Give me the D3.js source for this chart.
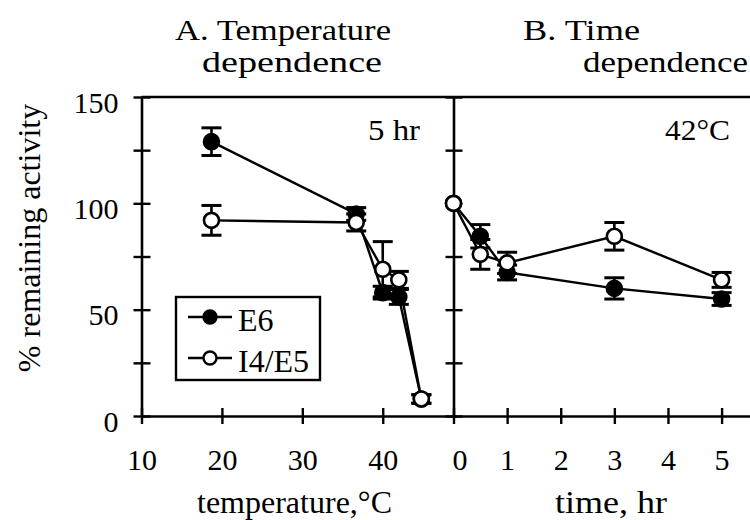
<!DOCTYPE html>
<html><head><meta charset="utf-8">
<script src="https://cdn.jsdelivr.net/npm/d3@7"></script>
<style>
body{margin:0;background:#fff}
text{font-family:"Liberation Serif","Times New Roman",serif;fill:#000}
</style></head><body>
<svg id="chart" width="750" height="520"></svg>
<script>
// Panel A: remaining activity after 5 hr at each temperature
const tempC = [18.7, 36.7, 40, 42, 44.8];
const tempE6 = [129, 95, 58, 56, 8];
const tempE6Err = [6.5, 3, 3, 3.5, 2];
const tempI4E5 = [92, 91, 69, 64, 8];
const tempI4E5Err = [7, 4, 13, 4, 2];

// Panel B: remaining activity at 42°C over time
const timeHr = [0, 0.5, 1, 3, 5];
const timeE6 = [100, 84.5, 67.5, 60, 55];
const timeE6Err = [0, 5.5, 3.5, 5, 3];
const timeI4E5 = [100, 76, 72, 84.5, 64];
const timeI4E5Err = [0, 7, 5, 6.5, 3.5];

const seriesNames = ["E6", "I4/E5"];
const yTicks = [0, 25, 50, 75, 100, 125, 150];
const yTickLabels = ["0", "", "50", "", "100", "", "150"];
const tempTicks = [10, 20, 30, 40];
const timeTicks = [0, 1, 2, 3, 4, 5];

const svg = d3.select("#chart");
const plotTop = 97, plotBottom = 416, plotLeft = 141.5, plotMid = 453.5, plotRight = 750;

const y = d3.scaleLinear().domain([0, 150]).range([plotBottom, plotTop]);
const xA = d3.scaleLinear().domain([10, 48.8]).range([plotLeft, plotMid]);
const xB = d3.scaleLinear().domain([0, 5.53]).range([plotMid, plotRight]);

const ink = "#000";
const frameW = 2.6;

// top frame line
svg.append("line").attr("x1", plotLeft).attr("x2", plotRight).attr("y1", plotTop).attr("y2", plotTop)
  .attr("stroke", ink).attr("stroke-width", frameW);

// y axes: left edge and the divider between panels, ticks crossing the line
function yAxis(x, withLabels) {
  const g = svg.append("g").attr("transform", `translate(${x},0)`)
    .call(d3.axisLeft(y).tickValues(yTicks).tickSize(8).tickSizeOuter(0)
      .tickFormat((d, i) => withLabels ? yTickLabels[i] : ""));
  g.select(".domain").attr("stroke", ink).attr("stroke-width", frameW);
  g.selectAll(".tick line").attr("x1", -8).attr("x2", 9).attr("stroke", ink).attr("stroke-width", 2.4);
  g.selectAll(".tick text").attr("x", -23).attr("dy", 15).attr("font-size", 30)
    .attr("font-family", "Liberation Serif").attr("fill", ink);
  return g;
}
yAxis(plotLeft, true);
yAxis(plotMid, false);

// x axes
function xAxis(scale, ticks, shiftFirst) {
  const g = svg.append("g").attr("transform", `translate(0,${plotBottom})`)
    .call(d3.axisBottom(scale).tickValues(ticks).tickSize(8).tickSizeOuter(0).tickFormat(d3.format("d")));
  g.select(".domain").attr("stroke", ink).attr("stroke-width", frameW);
  g.selectAll(".tick line").attr("y1", -8).attr("y2", 8).attr("stroke", ink).attr("stroke-width", 2.4);
  g.selectAll(".tick text").attr("y", 54).attr("dy", 0).attr("font-size", 30)
    .attr("font-family", "Liberation Serif").attr("fill", ink)
    .attr("dx", (d, i) => (shiftFirst && i === 0) ? 6 : 0);
  return g;
}
xAxis(xA, tempTicks, false);
xAxis(xB, timeTicks, true);

// build series rows
function rows(xs, vs, es) { return xs.map((x, i) => ({ x, v: vs[i], e: es[i] })); }
const panelA = [rows(tempC, tempE6, tempE6Err), rows(tempC, tempI4E5, tempI4E5Err)];
const panelB = [rows(timeHr, timeE6, timeE6Err), rows(timeHr, timeI4E5, timeI4E5Err)];

const capHalf = 10, r = 7.5;
function drawSeries(xs, data, filled) {
  const g = svg.append("g");
  const line = d3.line().x(d => xs(d.x)).y(d => y(d.v));
  g.append("path").datum(data).attr("d", line)
    .attr("fill", "none").attr("stroke", ink).attr("stroke-width", 2.4);
  const eb = g.append("g").attr("stroke", ink).attr("stroke-width", 2.6);
  data.filter(d => d.e > 0).forEach(d => {
    const cx = xs(d.x);
    eb.append("line").attr("x1", cx).attr("x2", cx).attr("y1", y(d.v - d.e)).attr("y2", y(d.v + d.e));
    eb.append("line").attr("x1", cx - capHalf).attr("x2", cx + capHalf).attr("y1", y(d.v + d.e)).attr("y2", y(d.v + d.e)).attr("stroke-width", 3);
    eb.append("line").attr("x1", cx - capHalf).attr("x2", cx + capHalf).attr("y1", y(d.v - d.e)).attr("y2", y(d.v - d.e)).attr("stroke-width", 3);
  });
  g.selectAll("circle").data(data).join("circle")
    .attr("cx", d => xs(d.x)).attr("cy", d => y(d.v)).attr("r", r)
    .attr("fill", filled ? ink : "#fff").attr("stroke", ink).attr("stroke-width", 2.6);
}
drawSeries(xA, panelA[0], true);
drawSeries(xA, panelA[1], false);
drawSeries(xB, panelB[0], true);
drawSeries(xB, panelB[1], false);

// titles and annotations
function label(txt, x, yy, size, len, anchor) {
  const t = svg.append("text").attr("x", x).attr("y", yy).attr("font-size", size)
    .attr("text-anchor", anchor || "start").text(txt);
  if (len) t.attr("textLength", len).attr("lengthAdjust", "spacingAndGlyphs");
  return t;
}
label("A. Temperature", 175, 40, 29, 216);
label("dependence", 202, 72, 29, 180);
label("B. Time", 523, 40, 29, 117);
label("dependence", 583, 72, 29, 165);
label("5 hr", 368, 140, 30, 52);
label("42°C", 665, 140, 30, 65);
label("temperature,°C", 197, 513, 32, 195);
label("time, hr", 555, 513, 32, 112);
svg.append("text").attr("transform", "translate(40,238) rotate(-90)")
  .attr("text-anchor", "middle").attr("font-size", 32).text("% remaining activity");

// legend
const lg = svg.append("g");
lg.append("rect").attr("x", 176).attr("y", 297).attr("width", 144).attr("height", 83)
  .attr("fill", "#fff").attr("stroke", ink).attr("stroke-width", 2.4);
seriesNames.forEach((name, i) => {
  const ly = 317 + i * 41;
  lg.append("line").attr("x1", 188).attr("x2", 232).attr("y1", ly).attr("y2", ly)
    .attr("stroke", ink).attr("stroke-width", 2.4);
  lg.append("circle").attr("cx", 210).attr("cy", ly).attr("r", 6.5)
    .attr("fill", i === 0 ? ink : "#fff").attr("stroke", ink).attr("stroke-width", 2.4);
  lg.append("text").attr("x", 238).attr("y", ly + 14).attr("font-size", 32).text(name);
});
</script>
</body></html>
